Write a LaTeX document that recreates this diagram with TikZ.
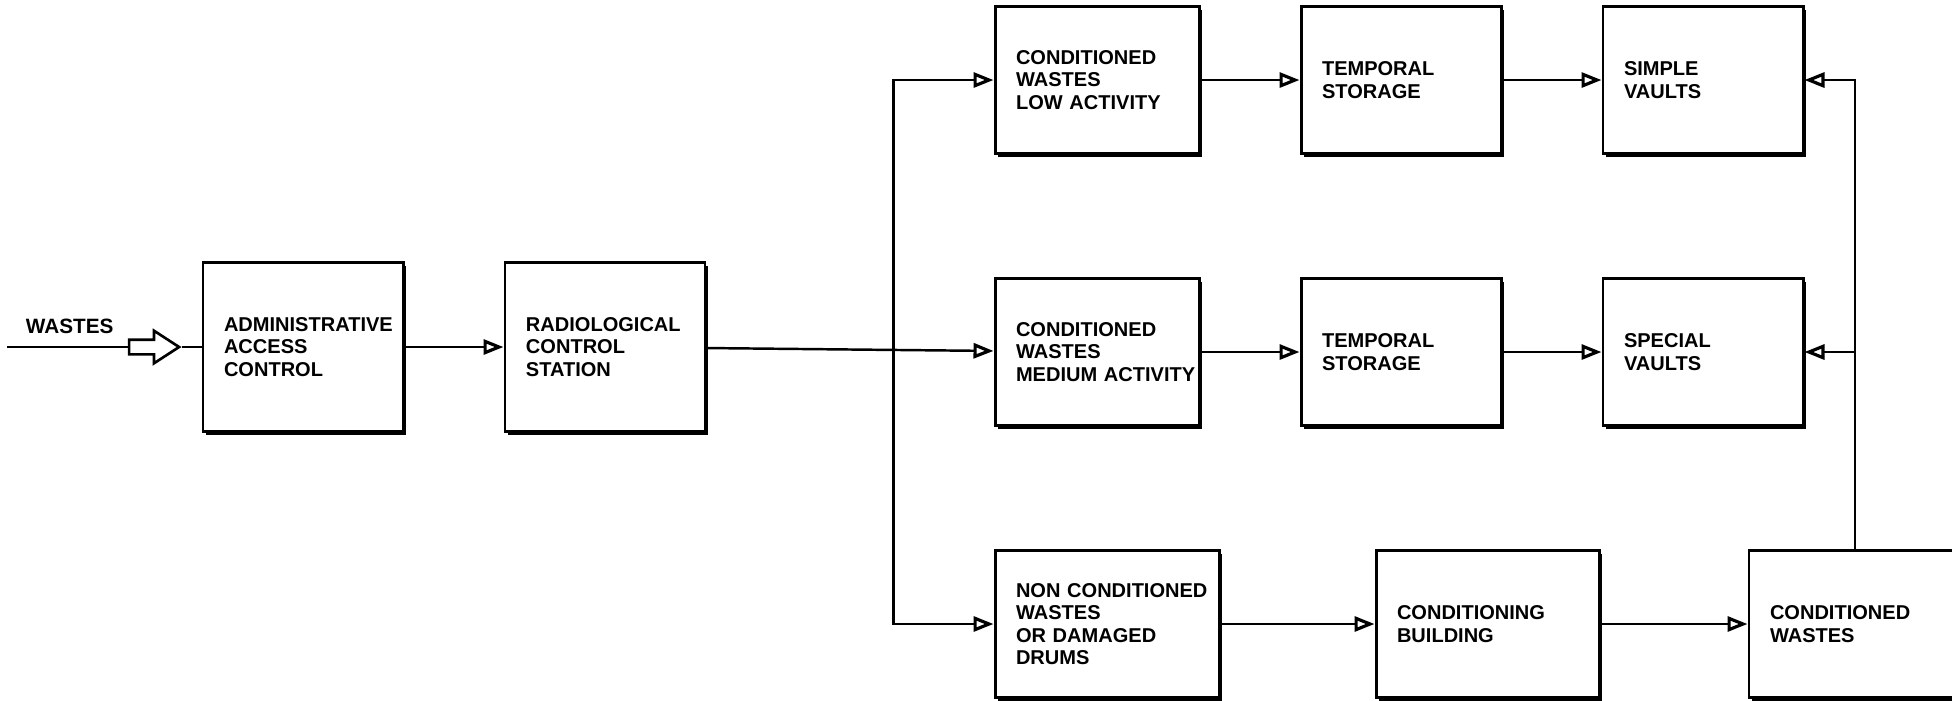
\documentclass[tikz,border=0pt]{standalone}
\usepackage{fontspec}
\setmainfont{Liberation Sans}
\usepackage{tikz}
\usetikzlibrary{arrows.meta,positioning,shapes.arrows,shadows}

\begin{document}
\begin{tikzpicture}[
    node distance=1.22cm and 0.99cm,
    box/.style={draw, fill=white, line width=0.85pt, minimum width=2cm, minimum height=1.47cm,
                inner xsep=2.1mm, text width=#1, align=left,
                font=\fontsize{5.7}{6.4}\selectfont\bfseries,
                drop shadow={shadow xshift=0.9pt, shadow yshift=-0.9pt, fill=black, opacity=1}},
    box/.default=1.58cm,
    tall/.style={minimum height=1.69cm},
    wire/.style={line width=0.7pt},
    line/.style={-{Triangle[open, length=2mm, width=1.5mm, line width=0.9pt]}, line width=0.7pt},
    inarr/.style={single arrow, draw, line width=0.75pt, minimum width=3mm, minimum height=5mm,
                  single arrow head extend=0.9mm, single arrow tip angle=66, inner sep=0.6mm}
]
\useasboundingbox (0,0) rectangle (19.52,7.0);

\node[box, tall]                       (admin)     at (3.03,3.53) {ADMINISTRATIVE\\ACCESS\\CONTROL};
\node[box, tall, right=of admin]       (radio)     {RADIOLOGICAL\\CONTROL\\STATION};
\node[box=1.62cm]                      (medium)    at (10.97,3.48) {CONDITIONED\\WASTES\\\mbox{MEDIUM ACTIVITY}};
\node[box=1.62cm, above=of medium]     (low)       {CONDITIONED\\WASTES\\LOW ACTIVITY};
\node[box, right=of low]               (temp1)     {TEMPORAL\\STORAGE};
\node[box, right=of temp1]             (simple)    {SIMPLE\\VAULTS};
\node[box, right=of medium]            (temp2)     {TEMPORAL\\STORAGE};
\node[box, right=of temp2]             (special)   {SPECIAL\\VAULTS};
\node[box=1.82cm, below=of medium.south west, anchor=north west] (noncond)
      {\mbox{NON CONDITIONED}\\WASTES\\OR DAMAGED\\DRUMS};
\node[box=1.81cm, right=1.54cm of noncond]   (condbuild) {CONDITIONING\\BUILDING};
\node[box=1.70cm, right=1.47cm of condbuild] (condw)     {CONDITIONED\\WASTES};

% incoming wastes
\node[inarr, left=2mm of admin] (inarrow) {};
\coordinate[left=1.21cm of inarrow.tail] (src);
\coordinate[left=1cm of medium.west] (split);

\draw[wire] (src) -- node[above, pos=0.52, font=\fontsize{5.9}{6.4}\selectfont\bfseries]{WASTES} (inarrow.tail);
\draw[wire] (inarrow.tip) -- (admin.west);

\draw[line] (admin)  -- (radio);
\draw[line] (radio)  -- (medium);
\draw[line] (split) |- (low);
\draw[line] (split) |- (noncond);
\draw[line] (low)    -- (temp1);
\draw[line] (temp1)  -- (simple);
\draw[line] (medium) -- (temp2);
\draw[line] (temp2)  -- (special);
\draw[line] (noncond)   -- (condbuild);
\draw[line] (condbuild) -- (condw);
\draw[line] (condw) |- (simple);
\draw[line] (condw.north |- special) -- (special);
\end{tikzpicture}
\end{document}
